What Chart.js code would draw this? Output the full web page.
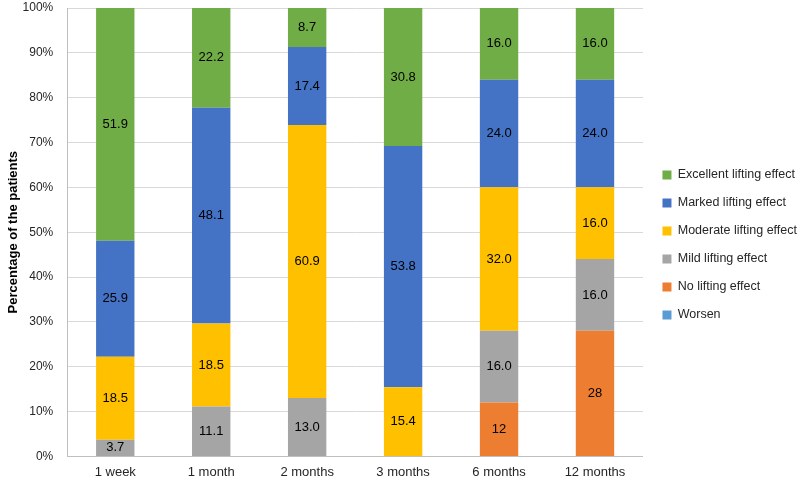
<!DOCTYPE html>
<html>
<head>
<meta charset="utf-8">
<script src="https://cdn.jsdelivr.net/npm/chart.js@4/dist/chart.umd.min.js"></script>
<style>
  body { margin: 0; background: #fff; }
</style>
</head>
<body>
<canvas id="lifting" width="800" height="483"></canvas>
<script>
// Categories (follow-up time points)
const periods = ['1 week', '1 month', '2 months', '3 months', '6 months', '12 months'];

// Series values, bottom of the stack first
const worsen    = [0, 0, 0, 0, 0, 0];
const noEffect  = [0, 0, 0, 0, 12, 28];
const mild      = [3.7, 11.1, 13.0, 0, 16.0, 16.0];
const moderate  = [18.5, 18.5, 60.9, 15.4, 32.0, 16.0];
const marked    = [25.9, 48.1, 17.4, 53.8, 24.0, 24.0];
const excellent = [51.9, 22.2, 8.7, 30.8, 16.0, 16.0];

const yTicks = [0, 10, 20, 30, 40, 50, 60, 70, 80, 90, 100];

const series = [
    { label: 'Worsen', values: worsen, color: '#5B9BD5' },
    { label: 'No lifting effect', values: noEffect, color: '#ED7D31' },
    { label: 'Mild lifting effect', values: mild, color: '#A5A5A5' },
    { label: 'Moderate lifting effect', values: moderate, color: '#FFC000' },
    { label: 'Marked lifting effect', values: marked, color: '#4472C4' },
    { label: 'Excellent lifting effect', values: excellent, color: '#70AD47' }
];

// column totals, used to scale each column to 100%
const totals = periods.map((p, i) => series.reduce((s, d) => s + d.values[i], 0));

const FONT = "'Liberation Sans', Arial, sans-serif";

// write the value in the middle of each segment
const segmentLabels = {
    id: 'segmentLabels',
    afterLayout(chart) {
        // nudge the legend a little right and up, as in the original
        if (chart.legend) {
            chart.legend.left += 4;
            chart.legend.right += 4;
            chart.legend.top -= 3;
            chart.legend.bottom -= 3;
        }
    },
    afterDatasetsDraw(chart) {
        const ctx = chart.ctx;
        ctx.save();
        ctx.font = '13px ' + FONT;
        ctx.fillStyle = '#000';
        ctx.textAlign = 'center';
        ctx.textBaseline = 'middle';
        chart.data.datasets.forEach((ds, di) => {
            const meta = chart.getDatasetMeta(di);
            meta.data.forEach((bar, i) => {
                const raw = ds.raw[i];
                if (!raw) return;
                const text = ds.label === 'No lifting effect' ? String(raw) : raw.toFixed(1);
                ctx.fillText(text, bar.x, (bar.y + bar.base) / 2);
            });
        });
        ctx.restore();
    }
};

new Chart(document.getElementById('lifting'), {
    type: 'bar',
    data: {
        labels: periods,
        datasets: series.map(s => ({
            label: s.label,
            raw: s.values,
            data: s.values.map((v, i) => v / totals[i] * 100),
            backgroundColor: s.color,
            borderWidth: 0,
            categoryPercentage: 1,
            barPercentage: 0.4
        }))
    },
    options: {
        responsive: false,
        animation: false,
        layout: { padding: { top: 8, right: -3, bottom: -5, left: 6 } },
        plugins: {
            tooltip: { enabled: false },
            legend: {
                position: 'right',
                reverse: true,
                labels: {
                    boxWidth: 9,
                    boxHeight: 9,
                    padding: 15.5,
                    color: '#262626',
                    font: { family: FONT, size: 12.5 }
                }
            }
        },
        scales: {
            x: {
                stacked: true,
                grid: { display: false, drawTicks: false },
                border: { color: '#bfbfbf', width: 1 },
                ticks: { color: '#262626', padding: 8, font: { family: FONT, size: 13 } }
            },
            y: {
                stacked: true,
                min: 0,
                max: 100,
                afterBuildTicks(axis) { axis.ticks = yTicks.map(v => ({ value: v })); },
                afterFit(axis) { axis.paddingTop = 0; },
                grid: { color: '#d9d9d9', drawTicks: false },
                border: { color: '#bfbfbf', width: 1 },
                ticks: {
                    color: '#262626',
                    padding: 14,
                    font: { family: FONT, size: 12 },
                    callback: v => v + '%'
                },
                title: {
                    display: true,
                    text: 'Percentage of the patients',
                    color: '#000',
                    padding: { top: 0, bottom: -13 },
                    font: { family: FONT, size: 13, weight: 'bold' }
                }
            }
        }
    },
    plugins: [segmentLabels]
});
</script>
</body>
</html>
